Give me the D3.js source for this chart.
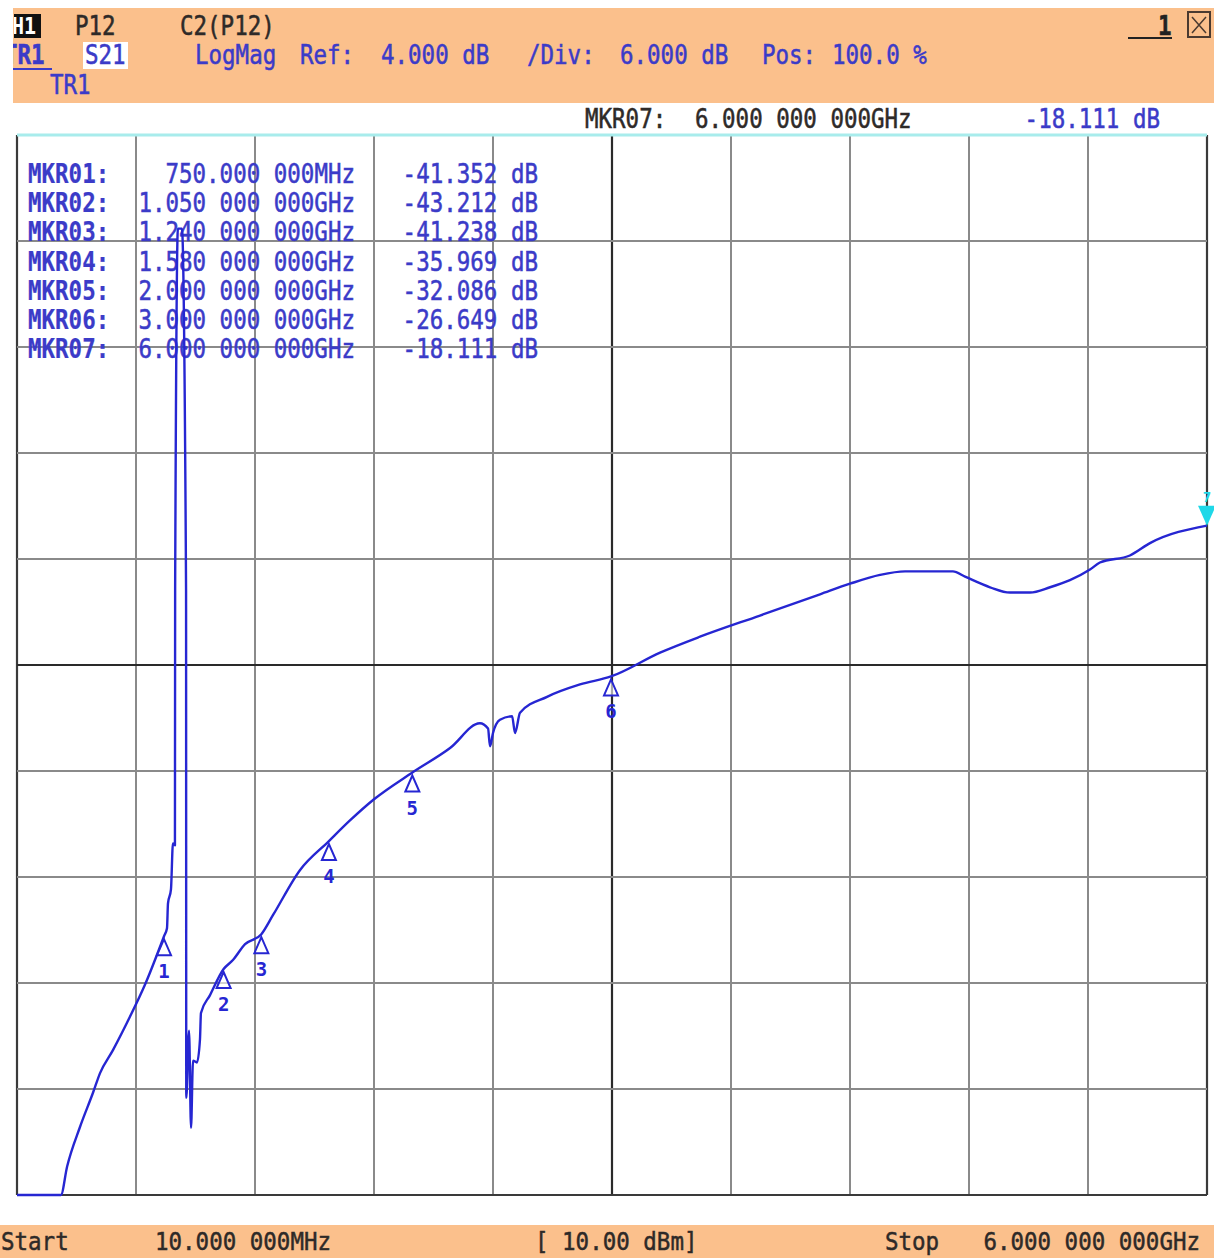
<!DOCTYPE html>
<html>
<head>
<meta charset="utf-8">
<script src="https://cdn.jsdelivr.net/npm/d3@7"></script>
<style>
  html, body { margin: 0; padding: 0; background: #ffffff; }
  svg { display: block; }
  text { font-family: "DejaVu Sans Mono", "Liberation Mono", monospace; }
</style>
</head>
<body>
<svg id="chart" width="1214" height="1258"></svg>
<script>
// ---------------- data ----------------
const startGHz = 0.01;
const stopGHz = 6.0;
const refDb = 4.0;
const perDivDb = 6.0;
const divisions = 10;

// S21 trace (frequency in GHz, magnitude in dB)
const freqGHz = [
  0.01, 0.201, 0.231, 0.262, 0.327, 0.393, 0.428, 0.493, 0.579, 0.654,
  0.75, 0.765, 0.770, 0.785, 0.795, 0.805, 0.806, 0.820, 0.840, 0.861,
  0.862, 0.876, 0.886, 0.896, 0.916, 0.931, 0.936, 0.981, 1.05, 1.097,
  1.158, 1.24, 1.299, 1.435, 1.58, 1.686, 1.807, 2.0, 2.19, 2.34,
  2.381, 2.391, 2.406, 2.441, 2.502, 2.517, 2.542, 2.678, 2.844, 3.0,
  3.247, 3.448, 3.75, 4.052, 4.203, 4.354, 4.48, 4.721, 4.782, 4.908,
  5.008, 5.109, 5.21, 5.31, 5.411, 5.461, 5.612, 5.713, 6.0
];
const s21dB = [
  -58, -58, -56.0, -54.4, -52.15, -50.2, -49.1, -47.8, -45.9, -44.1,
  -41.352, -40.9, -39.5, -38.7, -36.1, -36.2, -21.8, -1.3, -1.3, -21.8,
  -50.5, -46.7, -52.2, -48.4, -48.5, -47.2, -45.7, -44.7, -43.212, -42.7,
  -41.8, -41.238, -40.15, -37.6, -35.969, -34.8, -33.6, -32.086, -30.7, -29.3,
  -29.6, -30.6, -29.85, -29.1, -28.9, -29.85, -28.7, -27.8, -27.1, -26.649,
  -25.3, -24.4, -23.2, -22.0, -21.4, -20.9, -20.7, -20.7, -21.0, -21.6,
  -21.9, -21.9, -21.6, -21.2, -20.6, -20.2, -19.8, -19.1, -18.111
];

// markers
const markerIds = [1, 2, 3, 4, 5, 6, 7];
const markerFreqGHz = [0.75, 1.05, 1.24, 1.58, 2.0, 3.0, 6.0];
const markerDb = [-41.352, -43.212, -41.238, -35.969, -32.086, -26.649, -18.111];
const markerNames = ["MKR01:", "MKR02:", "MKR03:", "MKR04:", "MKR05:", "MKR06:", "MKR07:"];
const markerFreqText = ["750.000 000MHz", "1.050 000 000GHz", "1.240 000 000GHz", "1.580 000 000GHz",
                        "2.000 000 000GHz", "3.000 000 000GHz", "6.000 000 000GHz"];
const markerDbText = ["-41.352 dB", "-43.212 dB", "-41.238 dB", "-35.969 dB", "-32.086 dB", "-26.649 dB", "-18.111 dB"];

// ---------------- drawing ----------------
const svg = d3.select("#chart");
const W = 1214, H = 1258;
const plot = { left: 17, right: 1207, top: 135, bottom: 1195 };

const orange = "#fbc08c";
const blueText = "#3b3bc8";
const darkText = "#2e2a28";
const traceBlue = "#2626d2";

const x = d3.scaleLinear().domain([startGHz, stopGHz]).range([plot.left, plot.right]).clamp(true);
const bottomDb = refDb - perDivDb * divisions;
const y = d3.scaleLinear().domain([bottomDb, refDb]).range([plot.bottom, plot.top]).clamp(true);

function txt(g, px, py, s, o = {}) {
  const fill = o.fill || darkText;
  return g.append("text")
    .attr("transform", `translate(${px},${py}) scale(1,${o.sy || 1.18})`)
    .attr("font-size", o.size || 22.5)
    .attr("font-weight", o.weight || "normal")
    .attr("fill", fill)
    .attr("stroke", fill)
    .attr("stroke-width", o.sw === undefined ? 0.45 : o.sw)
    .attr("text-anchor", o.anchor || "start")
    .style("white-space", "pre")
    .text(s);
}

// header bar
const defs = svg.append("defs");
defs.append("clipPath").attr("id", "hdrClip").append("rect")
  .attr("x", 13).attr("y", 8).attr("width", W - 13).attr("height", 95);
defs.append("clipPath").attr("id", "ch1Clip").append("rect")
  .attr("x", 14).attr("y", 14).attr("width", 27).attr("height", 24);
defs.append("clipPath").attr("id", "plotClip").append("rect")
  .attr("x", plot.left).attr("y", plot.top - 2).attr("width", W - plot.left).attr("height", plot.bottom - plot.top + 4);

const hdr = svg.append("g").attr("clip-path", "url(#hdrClip)");
hdr.append("rect").attr("x", 13).attr("y", 8).attr("width", W - 13).attr("height", 95).attr("fill", orange);

hdr.append("rect").attr("x", 14).attr("y", 14).attr("width", 27).attr("height", 24).attr("fill", "#111");
svg.append("g").attr("clip-path", "url(#ch1Clip)").call(g => txt(g, 0, 34, "CH1", { fill: "#fff", size: 20, weight: "bold", sw: 0 }));
txt(hdr, 75, 35, "P12", { fill: darkText });
txt(hdr, 180, 35, "C2(P12)", { fill: darkText });

hdr.append("rect").attr("x", 83).attr("y", 42).attr("width", 45).attr("height", 27).attr("fill", "#fff");
txt(hdr, 4, 64, "TR1", { fill: blueText, weight: "bold" });
hdr.append("line").attr("x1", 13).attr("x2", 52).attr("y1", 69).attr("y2", 69).attr("stroke", blueText).attr("stroke-width", 2);
txt(hdr, 85, 64, "S21", { fill: blueText });
txt(hdr, 195, 64, "LogMag", { fill: blueText });
txt(hdr, 300, 64, "Ref:", { fill: blueText });
txt(hdr, 381, 64, "4.000 dB", { fill: blueText });
txt(hdr, 527, 64, "/Div:", { fill: blueText });
txt(hdr, 620, 64, "6.000 dB", { fill: blueText });
txt(hdr, 762, 64, "Pos:", { fill: blueText });
txt(hdr, 832, 64, "100.0 %", { fill: blueText });
txt(hdr, 50, 94, "TR1", { fill: blueText });

// window controls
hdr.append("line").attr("x1", 1128).attr("x2", 1172).attr("y1", 38).attr("y2", 38).attr("stroke", "#222").attr("stroke-width", 2);
txt(hdr, 1158, 35, "1", { fill: "#222", weight: "bold" });
hdr.append("rect").attr("x", 1188).attr("y", 12).attr("width", 22).attr("height", 25)
  .attr("fill", "none").attr("stroke", "#4a3a30").attr("stroke-width", 2);
hdr.append("path").attr("d", "M1192,17 L1206,33 M1206,17 L1192,33").attr("stroke", "#4a3a30").attr("stroke-width", 1.5);

// active marker readout line
txt(svg, 585, 128, "MKR07:", { fill: darkText });
txt(svg, 695, 128, markerFreqText[6], { fill: darkText });
txt(svg, 1160, 128, markerDbText[6], { fill: blueText, anchor: "end" });

// grid
const xTicks = d3.range(divisions + 1).map(i => startGHz + i * (stopGHz - startGHz) / divisions);
const yTicks = d3.range(divisions + 1).map(i => bottomDb + i * perDivDb);
const grid = svg.append("g");
grid.selectAll("line.v").data(xTicks).join("line")
  .attr("x1", d => x(d)).attr("x2", d => x(d))
  .attr("y1", plot.top).attr("y2", plot.bottom)
  .attr("stroke", (d, i) => (i === 5 ? "#2a2a2a" : (i === 0 || i === divisions) ? "#3a3a3a" : "#8a8a8a"))
  .attr("stroke-width", (d, i) => (i === 5 || i === 0 || i === divisions) ? 2.2 : 2);
grid.selectAll("line.h").data(yTicks).join("line")
  .attr("x1", plot.left).attr("x2", plot.right)
  .attr("y1", d => y(d)).attr("y2", d => y(d))
  .attr("stroke", (d, i) => (i === 5 ? "#2a2a2a" : i === 0 ? "#3a3a3a" : i === divisions ? "#a8ecec" : "#8a8a8a"))
  .attr("stroke-width", (d, i) => (i === 5 || i === 0) ? 2.2 : i === divisions ? 3 : 2);

// marker table
const tbl = svg.append("g");
markerIds.forEach((m, i) => {
  const by = 183 + i * 29.2;
  txt(tbl, 28, by, markerNames[i], { fill: blueText, weight: "bold", sw: 0.2 });
  txt(tbl, 355, by, markerFreqText[i], { fill: blueText, anchor: "end" });
  txt(tbl, 538, by, markerDbText[i], { fill: blueText, anchor: "end" });
});

// trace
const pts = freqGHz.map((f, i) => [f, s21dB[i]]);
svg.append("path")
  .attr("clip-path", "url(#plotClip)")
  .attr("d", d3.line().x(d => x(d[0])).y(d => y(d[1])).curve(d3.curveMonotoneX)(pts))
  .attr("fill", "none")
  .attr("stroke", traceBlue)
  .attr("stroke-width", 2.4)
  .attr("stroke-linejoin", "round");

// marker symbols (1..6)
const mk = svg.append("g");
markerIds.slice(0, 6).forEach((m, i) => {
  const mx = x(markerFreqGHz[i]), my = y(markerDb[i]);
  mk.append("path")
    .attr("d", `M${mx},${my + 3} L${mx - 7},${my + 19} L${mx + 7},${my + 19} Z`)
    .attr("fill", "#fff").attr("fill-opacity", 0.6)
    .attr("stroke", traceBlue).attr("stroke-width", 2);
  mk.append("text")
    .attr("x", mx).attr("y", my + 42)
    .attr("text-anchor", "middle")
    .attr("font-family", "DejaVu Sans, sans-serif")
    .attr("font-size", 19).attr("font-weight", "bold")
    .attr("fill", traceBlue)
    .text(m);
});

// active marker 7 (cyan, at right edge)
{
  const mx = x(markerFreqGHz[6]), my = y(markerDb[6]);
  mk.append("path")
    .attr("d", `M${mx},${my} L${mx - 9},${my - 20} L${mx + 9},${my - 20} Z`)
    .attr("fill", "#1fd8e8");
  mk.append("text")
    .attr("x", mx).attr("y", my - 24)
    .attr("text-anchor", "middle")
    .attr("font-family", "DejaVu Sans, sans-serif")
    .attr("font-size", 14).attr("font-weight", "bold")
    .attr("fill", "#1fd8e8")
    .text(markerIds[6]);
}

// footer bar
const ftr = svg.append("g");
ftr.append("rect").attr("x", 0).attr("y", 1225).attr("width", W).attr("height", 33).attr("fill", orange);
txt(ftr, 1, 1250, "Start", { fill: darkText, sy: 1.12 });
txt(ftr, 155, 1250, "10.000 000MHz", { fill: darkText, sy: 1.12 });
txt(ftr, 535, 1250, "[ 10.00 dBm]", { fill: darkText, sy: 1.12 });
txt(ftr, 885, 1250, "Stop", { fill: darkText, sy: 1.12 });
txt(ftr, 1200, 1250, "6.000 000 000GHz", { fill: darkText, anchor: "end", sy: 1.12 });
</script>
</body>
</html>
